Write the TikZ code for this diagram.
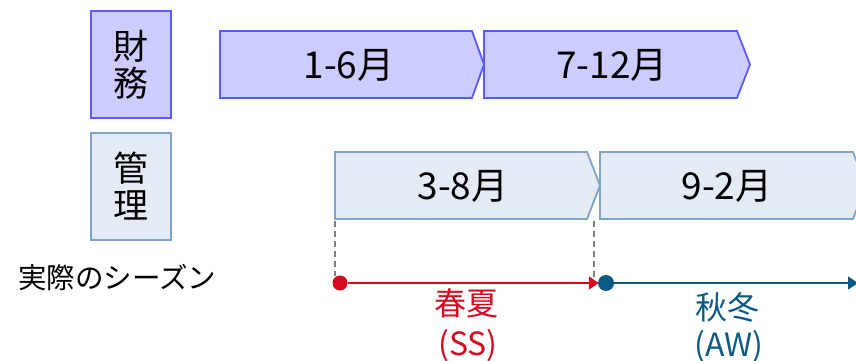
\documentclass[tikz,border=0pt]{standalone}
\usepackage{fontspec}
\setmainfont{Noto Sans CJK JP}
\usetikzlibrary{arrows.meta}
\definecolor{finfill}{HTML}{CCCCFF}
\definecolor{finline}{HTML}{5A5AFF}
\definecolor{mgmtfill}{HTML}{E4EBF5}
\definecolor{mgmtline}{HTML}{7FA2CB}
\definecolor{ssred}{HTML}{D40A1E}
\definecolor{awblue}{HTML}{0B5A85}
\tikzset{
  labelbox/.style={draw, line width=1.8pt, minimum width=80pt, minimum height=107pt, inner sep=0pt, align=center, font=\fontsize{35}{37}\selectfont},
  finstyle/.style={fill=finfill, draw=finline},
  mgmtstyle/.style={fill=mgmtfill, draw=mgmtline},
  chevtext/.style={inner sep=0pt, font=\fontsize{37}{40}\selectfont},
  seasontext/.style={inner sep=0pt, font=\fontsize{32}{35}\selectfont},
  guide/.style={draw=gray, line width=1.6pt, dash pattern=on 6pt off 4pt},
  dotnode/.style={circle, inner sep=0pt},
}
\begin{document}
\begin{tikzpicture}[x=1pt, y=-1pt]
\useasboundingbox (0,0) rectangle (856,361);
% left labels
\node[labelbox, finstyle] (fin) at (131,64.5) {財\\務};
\node[labelbox, mgmtstyle] (mgmt) at (131,186.5) {管\\理};
\node[inner sep=0pt, font=\fontsize{28.5}{30}\selectfont, anchor=west] (season) at (18,278) {実際のシーズン};
% finance chevrons
\path[finstyle, line width=1.8pt] (220,31) -- (472,31) -- (484,64.5) -- (472,98) -- (220,98) -- cycle;
\path[finstyle, line width=1.8pt] (484,31) -- (737,31) -- (750,64.5) -- (737,98) -- (484,98) -- cycle;
\node[chevtext] (f1) at (349,65) {1-6月};
\node[chevtext] (f2) at (612,65) {7-12月};
% management chevrons
\path[mgmtstyle, line width=1.8pt] (335,152) -- (587,152) -- (600,185.5) -- (587,219) -- (335,219) -- cycle;
\path[mgmtstyle, line width=1.8pt] (600,152) -- (853,152) -- (866,185.5) -- (853,219) -- (600,219) -- cycle;
\node[chevtext] (m1) at (463,186) {3-8月};
\node[chevtext] (m2) at (727,186) {9-2月};
% guides
\coordinate (g1top) at (335,221);
\coordinate (g1bot) at (335,276);
\coordinate (g2top) at (594,221);
\coordinate (g2bot) at (594,278);
\draw[guide] (g1top) -- (g1bot);
\draw[guide] (g2top) -- (g2bot);
% timeline
\node[dotnode, fill=ssred, minimum size=15pt] (ss) at (340,283) {};
\node[dotnode, fill=awblue, minimum size=16pt] (aw) at (606,283) {};
\coordinate (awend) at (858,283);
\draw[ssred, line width=1.8pt, -{Triangle[length=10pt,width=13pt]}, shorten >=-1pt] (ss) -- (aw);
\draw[awblue, line width=1.8pt, -{Triangle[length=10pt,width=13pt]}] (aw) -- (awend);
\node[seasontext, text=ssred] (sslabel) at (466,303) {春夏};
\node[seasontext, text=ssred] (sscode) at (468,346) {(SS)};
\node[seasontext, text=awblue] (awlabel) at (727,307) {秋冬};
\node[seasontext, text=awblue] (awcode) at (729,347) {(AW)};
\end{tikzpicture}
\end{document}
